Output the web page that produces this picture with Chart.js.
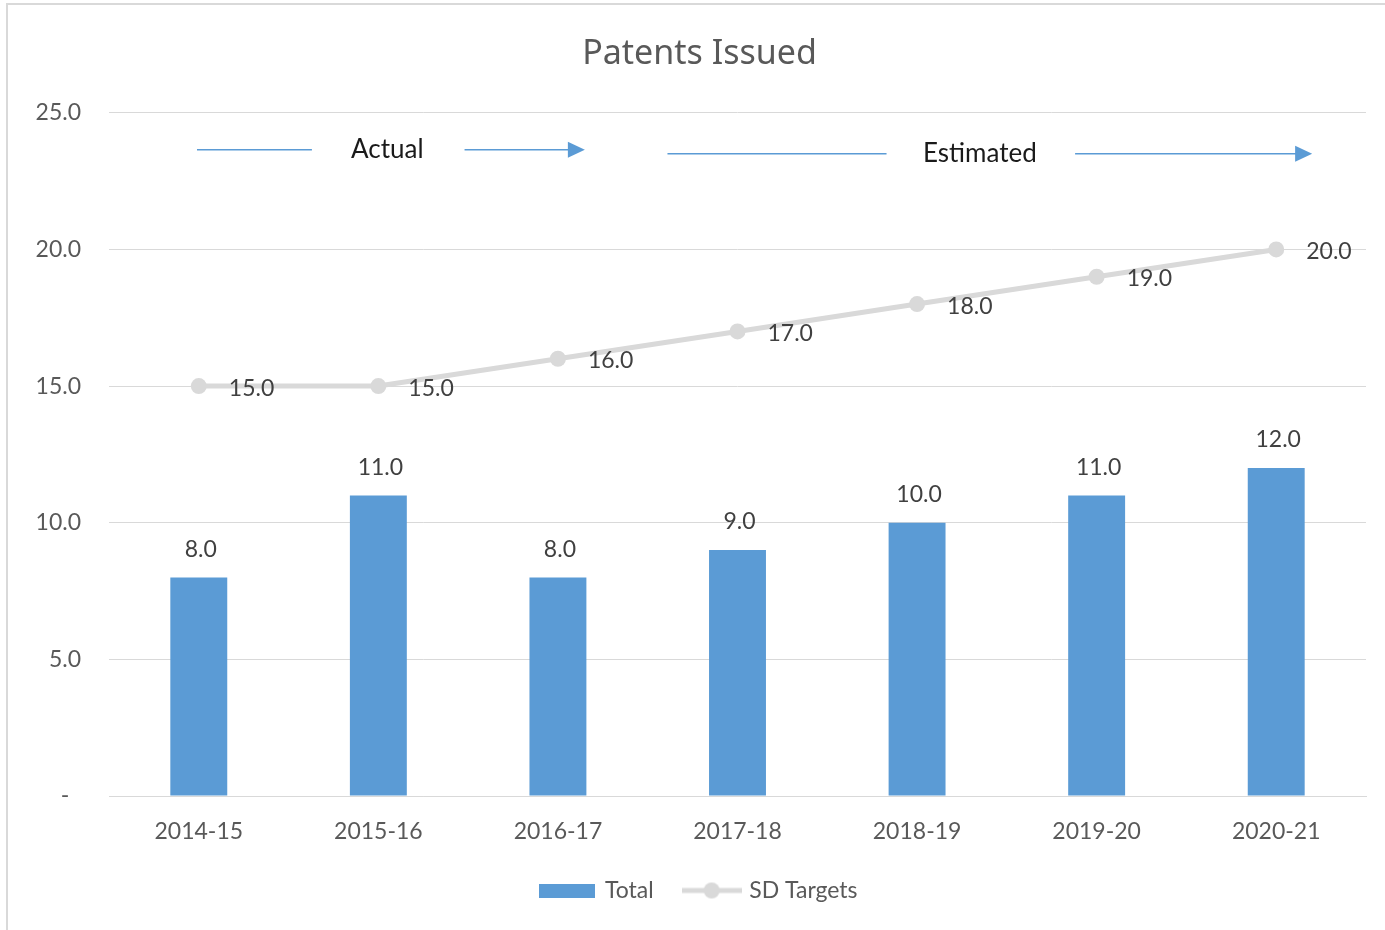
<!DOCTYPE html>
<html>
<head>
<meta charset="utf-8">
<script src="https://cdn.jsdelivr.net/npm/chart.js@4/dist/chart.umd.min.js"></script>
<style>
  html, body { margin: 0; padding: 0; background: #fff; overflow: hidden; }
  #frame { position: absolute; left: 6px; top: 3px; width: 1400px; height: 1000px; border: 2px solid #d9d9d9; }
  #wrap { position: absolute; left: 0; top: 0; width: 1385px; height: 930px; }
</style>
</head>
<body>
<div id="frame"></div>
<div id="wrap"><canvas id="patentsChart"></canvas></div>
<script>
// Data
const years = ['2014-15', '2015-16', '2016-17', '2017-18', '2018-19', '2019-20', '2020-21'];
const totalPatents = [8, 11, 8, 9, 10, 11, 12];
const sdTargets = [15, 15, 16, 17, 18, 19, 20];
const yTicks = [0, 5, 10, 15, 20, 25];
const phaseLabels = ['Actual', 'Estimated'];

const BLUE = '#5B9BD5';
const GREY = '#D9D9D9';

// legend symbols
function barSymbol() {
    const c = document.createElement('canvas');
    c.width = 56; c.height = 14;
    const g = c.getContext('2d');
    g.fillStyle = BLUE;
    g.fillRect(0, 0, 56, 14);
    return c;
}
function lineSymbol() {
    const c = document.createElement('canvas');
    c.width = 60; c.height = 18;
    const g = c.getContext('2d');
    g.strokeStyle = GREY; g.lineWidth = 5;
    g.beginPath(); g.moveTo(0, 9); g.lineTo(60, 9); g.stroke();
    g.fillStyle = GREY;
    g.beginPath(); g.arc(30, 9, 8, 0, Math.PI * 2); g.fill();
    return c;
}

// --- PLUGINS ---

const valueLabels = {
    id: 'valueLabels',
    afterDatasetsDraw(chart) {
        const ctx = chart.ctx;
        ctx.save();
        ctx.font = '23px Lato';
        ctx.fillStyle = '#404040';
        ctx.textBaseline = 'middle';
        chart.data.datasets.forEach((ds, i) => {
            const meta = chart.getDatasetMeta(i);
            meta.data.forEach((el, j) => {
                const txt = ds.data[j].toFixed(1);
                if (meta.type === 'bar') {
                    ctx.textAlign = 'center';
                    ctx.fillText(txt, el.x + 2, el.y - 28);
                } else {
                    ctx.textAlign = 'left';
                    ctx.fillText(txt, el.x + 30, el.y + 2);
                }
            });
        });
        ctx.restore();
    }
};

const phaseArrows = {
    id: 'phaseArrows',
    afterDraw(chart) {
        const xs = chart.scales.x, ys = chart.scales.y;
        const ctx = chart.ctx;
        ctx.save();
        ctx.strokeStyle = BLUE; ctx.fillStyle = BLUE; ctx.lineWidth = 1.5;
        const seg = (a, b, v, head) => {
            const x1 = xs.getPixelForValue(a), x2 = xs.getPixelForValue(b), py = ys.getPixelForValue(v);
            ctx.beginPath(); ctx.moveTo(x1, py); ctx.lineTo(head ? x2 - 14 : x2, py); ctx.stroke();
            if (head) {
                ctx.beginPath();
                ctx.moveTo(x2, py); ctx.lineTo(x2 - 17, py - 8); ctx.lineTo(x2 - 17, py + 8);
                ctx.closePath(); ctx.fill();
            }
        };
        seg(-0.01, 0.63, 23.65, false);
        seg(1.48, 2.15, 23.65, true);
        seg(2.61, 3.83, 23.5, false);
        seg(4.88, 6.2, 23.5, true);
        ctx.fillStyle = '#1a1a1a';
        ctx.font = '26px Lato';
        ctx.textAlign = 'center';
        ctx.textBaseline = 'middle';
        ctx.fillText(phaseLabels[0], xs.getPixelForValue(1.05), ys.getPixelForValue(23.65));
        ctx.fillText(phaseLabels[1], xs.getPixelForValue(4.35), ys.getPixelForValue(23.5));
        ctx.restore();
    }
};

// Chart Setup
const ctx = document.getElementById('patentsChart').getContext('2d');
const patentsChart = new Chart(ctx, {
    type: 'bar',
    data: {
        labels: years,
        datasets: [{
            type: 'line',
            label: 'SD Targets',
            data: sdTargets,
            borderColor: GREY,
            backgroundColor: GREY,
            borderWidth: 5,
            pointRadius: 8,
            pointBackgroundColor: GREY,
            pointBorderWidth: 0,
            order: 1
        }, {
            label: 'Total',
            data: totalPatents,
            backgroundColor: BLUE,
            categoryPercentage: 1,
            barPercentage: 0.317,
            order: 2
        }]
    },
    options: {
        responsive: true,
        maintainAspectRatio: false,
        animation: false,
        layout: { padding: { left: 33, right: 19, top: 0, bottom: 18 } },
        plugins: {
            title: {
                display: true,
                text: 'Patents Issued',
                color: '#595959',
                font: { family: 'Noto Sans', size: 34, weight: 'normal' },
                padding: { top: 34, bottom: 38 }
            },
            legend: {
                position: 'bottom',
                reverse: true,
                labels: {
                    usePointStyle: true,
                    pointStyleWidth: 52,
                    padding: 32,
                    color: '#595959',
                    font: { family: 'Lato', size: 23 },
                    generateLabels(chart) {
                        const items = Chart.defaults.plugins.legend.labels.generateLabels(chart);
                        items.forEach(it => {
                            it.pointStyle = it.text === 'Total' ? barSymbol() : lineSymbol();
                        });
                        return items;
                    }
                }
            },
            tooltip: { enabled: false }
        },
        scales: {
            x: {
                grid: { display: false, drawTicks: false },
                border: { color: GREY, width: 1 },
                ticks: { color: '#595959', font: { family: 'Lato', size: 23 }, padding: 22 },
                afterFit(scale) { scale.height = 51; }
            },
            y: {
                min: 0,
                max: 25,
                afterBuildTicks(scale) { scale.ticks = yTicks.map(v => ({ value: v })); },
                grid: { color: GREY, drawTicks: false },
                border: { display: false },
                ticks: {
                    color: '#595959',
                    font: { family: 'Lato', size: 23 },
                    padding: 28,
                    callback: v => v === 0 ? '-  ' : v.toFixed(1)
                },
                afterFit(scale) { scale.width = 76; }
            }
        }
    },
    plugins: [valueLabels, phaseArrows]
});
</script>
</body>
</html>
